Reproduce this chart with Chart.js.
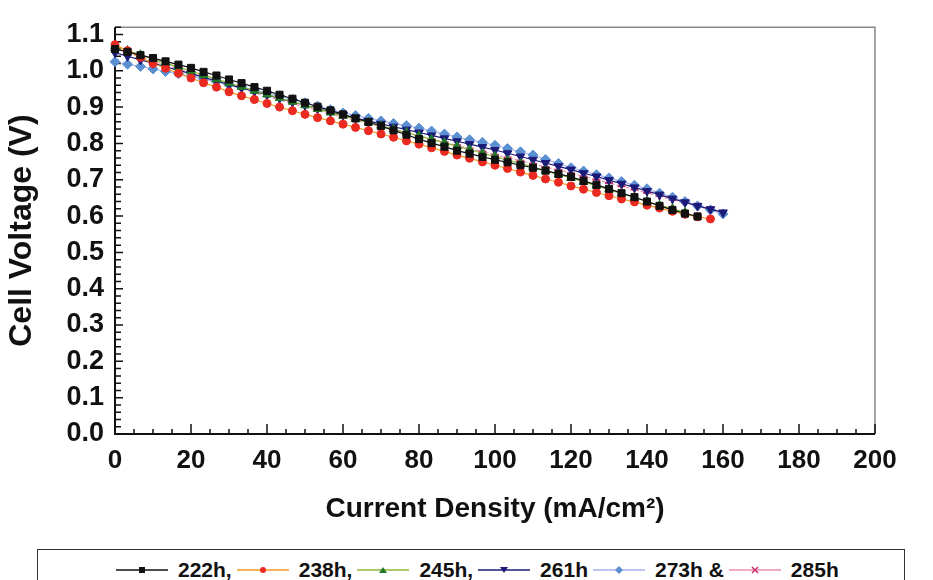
<!DOCTYPE html>
<html>
<head>
<meta charset="utf-8">
<script src="https://cdn.jsdelivr.net/npm/chart.js@4.4.0/dist/chart.umd.min.js"></script>
<style>
  body { margin: 0; background: #fff; width: 933px; height: 580px; overflow: hidden; position: relative; font-family: "Liberation Sans", Arial, sans-serif; }
  #wrap { position: absolute; left: 0; top: 0; width: 933px; height: 540px; }
  #legend { position: absolute; left: 37px; top: 549px; width: 868px; height: 42px; border: 1.5px solid #333; box-sizing: border-box;
            display: flex; align-items: center; padding-left: 78px; font-weight: bold; font-size: 21px; color: #111; }
  .item { display: flex; align-items: center; white-space: pre; margin-right: 5px; }
  .item svg { margin-right: 10px; }
</style>
</head>
<body>
<div id="wrap"><canvas id="chart"></canvas></div>
<div id="legend"></div>
<script>
// current density (mA/cm2), shared by all runs
const currentDensity = [0, 3.3, 6.7, 10, 13.3, 16.7, 20, 23.3, 26.7, 30, 33.3, 36.7, 40, 43.3, 46.7, 50, 53.3, 56.7, 60,
  63.3, 66.7, 70, 73.3, 76.7, 80, 83.3, 86.7, 90, 93.3, 96.7, 100, 103.3, 106.7, 110, 113.3, 116.7, 120,
  123.3, 126.7, 130, 133.3, 136.7, 140, 143.3, 146.7, 150, 153.3, 156.7, 160];

// cell voltage (V) for each run
const v222 = [1.060, 1.052, 1.043, 1.035, 1.026, 1.017, 1.008, 0.997, 0.987, 0.976, 0.966, 0.955, 0.945, 0.934, 0.923, 0.912,
  0.901, 0.891, 0.880, 0.869, 0.859, 0.848, 0.836, 0.824, 0.812, 0.801, 0.791, 0.780, 0.772, 0.763, 0.755, 0.748, 0.740,
  0.733, 0.725, 0.716, 0.708, 0.697, 0.686, 0.675, 0.663, 0.652, 0.640, 0.628, 0.617, 0.607, 0.599];
const v238 = [1.072, 1.055, 1.037, 1.020, 1.007, 0.993, 0.980, 0.967, 0.955, 0.942, 0.931, 0.921, 0.910, 0.900, 0.890, 0.880,
  0.871, 0.862, 0.853, 0.844, 0.835, 0.826, 0.817, 0.807, 0.798, 0.788, 0.778, 0.768, 0.759, 0.749, 0.740, 0.731, 0.721,
  0.712, 0.702, 0.693, 0.683, 0.674, 0.665, 0.656, 0.647, 0.639, 0.630, 0.622, 0.613, 0.605, 0.598, 0.592];
const v245 = [1.068, 1.056, 1.044, 1.032, 1.021, 1.010, 0.999, 0.988, 0.977, 0.966, 0.956, 0.945, 0.935, 0.925, 0.915, 0.905,
  0.895, 0.885, 0.876, 0.867, 0.858, 0.849, 0.839, 0.830, 0.821, 0.811, 0.802, 0.792, 0.783, 0.773, 0.764, 0.754, 0.745,
  0.735, 0.725, 0.715, 0.705, 0.694, 0.684, 0.673, 0.662, 0.651, 0.640, 0.630, 0.620, 0.610];
const v261 = [1.050, 1.040, 1.030, 1.021, 1.011, 1.001, 0.992, 0.982, 0.972, 0.962, 0.953, 0.943, 0.934, 0.924, 0.914, 0.905,
  0.896, 0.887, 0.878, 0.870, 0.862, 0.854, 0.846, 0.838, 0.830, 0.822, 0.814, 0.806, 0.798, 0.790, 0.782, 0.773, 0.764,
  0.755, 0.746, 0.737, 0.728, 0.718, 0.709, 0.699, 0.689, 0.679, 0.669, 0.659, 0.648, 0.638, 0.628, 0.619, 0.610];
const v273 = [1.025, 1.018, 1.012, 1.005, 0.998, 0.992, 0.985, 0.977, 0.970, 0.962, 0.955, 0.947, 0.940, 0.931, 0.921, 0.912,
  0.903, 0.893, 0.884, 0.877, 0.869, 0.862, 0.855, 0.849, 0.842, 0.834, 0.826, 0.818, 0.810, 0.803, 0.795, 0.786, 0.777,
  0.768, 0.756, 0.745, 0.733, 0.724, 0.714, 0.705, 0.695, 0.685, 0.675, 0.663, 0.652, 0.640, 0.628, 0.617, 0.606];
const v285 = [1.062, 1.050, 1.038, 1.027, 1.016, 1.005, 0.994, 0.983, 0.972, 0.961, 0.951, 0.940, 0.930, 0.920, 0.910, 0.900,
  0.891, 0.881, 0.872, 0.863, 0.855, 0.846, 0.837, 0.829, 0.820, 0.812, 0.803, 0.795, 0.786, 0.778, 0.769, 0.761, 0.752,
  0.744, 0.735, 0.727, 0.718, 0.709, 0.700, 0.691, 0.682, 0.673, 0.664, 0.655, 0.645, 0.636, 0.627, 0.617, 0.608];

const seriesLabels = ['222h', '238h', '245h', '261h', '273h', '285h'];
const legendText = ['222h,', '238h,', '245h,', '261h', '273h &', '285h'];
const xTicks = [0, 20, 40, 60, 80, 100, 120, 140, 160, 180, 200];
const yTicks = [0, 0.1, 0.2, 0.3, 0.4, 0.5, 0.6, 0.7, 0.8, 0.9, 1.0, 1.1];

const voltages = [v222, v238, v245, v261, v273, v285];
const lineColors = ['#111111', '#f39a1e', '#8fb83a', '#1c1a78', '#aab2ea', '#ee8fb0'];
const markColors = ['#111111', '#ea2a20', '#217a2a', '#1c1a78', '#5a8fd2', '#c8306a'];
const markStyles = ['rect', 'circle', 'triangle', 'triangle', 'rectRot', 'cross'];
const markRot = [0, 0, 0, 180, 0, 0];
const markRadius = [5, 4, 5, 5, 5, 4];

const sans = '"Liberation Sans", Arial, sans-serif';

const datasets = seriesLabels.map((label, i) => ({
  label: label,
  data: voltages[i].map((v, k) => ({ x: currentDensity[k], y: v })),
  borderColor: lineColors[i],
  backgroundColor: markColors[i],
  pointBorderColor: markColors[i],
  pointBackgroundColor: markColors[i],
  pointStyle: markStyles[i],
  rotation: markRot[i],
  pointRadius: markRadius[i],
  pointBorderWidth: markStyles[i] === 'cross' ? 2 : 1,
  borderWidth: 1.2,
  borderDash: i === 5 ? [3, 2] : [],
  clip: false
}));

// axis frame with inward ticks, like the original plot
const frameTicks = {
  id: 'frameTicks',
  beforeDatasetsDraw(chart) {
    const { ctx, chartArea: a, scales: { x, y } } = chart;
    ctx.save();
    ctx.strokeStyle = '#888';
    ctx.lineWidth = 1.5;
    ctx.beginPath();
    ctx.moveTo(a.left, a.top); ctx.lineTo(a.right, a.top); ctx.lineTo(a.right, a.bottom);
    ctx.stroke();
    ctx.strokeStyle = '#111';
    ctx.lineWidth = 2;
    ctx.beginPath();
    ctx.moveTo(a.left, a.top); ctx.lineTo(a.left, a.bottom); ctx.lineTo(a.right, a.bottom);
    ctx.stroke();
    ctx.lineWidth = 1.5;
    ctx.beginPath();
    for (let v = 0; v <= 200; v += 5) {
      const px = x.getPixelForValue(v);
      const len = v % 20 === 0 ? 10 : 5;
      ctx.moveTo(px, a.bottom); ctx.lineTo(px, a.bottom - len);
    }
    for (let i = 0; i <= 56; i++) {
      const py = y.getPixelForValue(i * 0.02);
      const len = i % 5 === 0 ? 8 : 6;
      ctx.moveTo(a.left, py); ctx.lineTo(a.left + len, py);
    }
    ctx.stroke();
    ctx.restore();
  }
};

new Chart(document.getElementById('chart'), {
  type: 'line',
  data: { datasets: datasets },
  plugins: [frameTicks],
  options: {
    responsive: true,
    maintainAspectRatio: false,
    animation: false,
    layout: { padding: { top: 9, right: 58, left: 0, bottom: 0 } },
    plugins: { legend: { display: false }, tooltip: { enabled: false } },
    scales: {
      x: {
        type: 'linear', min: 0, max: 200,
        afterBuildTicks: s => { s.ticks = xTicks.map(v => ({ value: v })); },
        afterFit: s => { s.height = 106; },
        grid: { display: false, drawTicks: false },
        border: { display: false },
        ticks: { autoSkip: false, maxRotation: 0, padding: 11, color: '#111',
                 font: { family: sans, size: 26, weight: 'bold' } },
        title: { display: true, text: 'Current Density (mA/cm²)', color: '#111',
                 padding: { top: 0, bottom: 14 }, font: { family: sans, size: 28, weight: 'bold' } }
      },
      y: {
        type: 'linear', min: 0, max: 1.12,
        afterBuildTicks: s => { s.ticks = yTicks.map(v => ({ value: v })); },
        afterFit: s => { s.width = 115; },
        grid: { display: false, drawTicks: false },
        border: { display: false },
        ticks: { padding: 11, color: '#111', callback: v => v.toFixed(1),
                 font: { family: sans, size: 27, weight: 'bold' } },
        title: { display: true, text: 'Cell Voltage (V)', color: '#111',
                 padding: { top: 3, bottom: 0 }, font: { family: sans, size: 32, weight: 'bold' } }
      }
    }
  }
});

// legend strip below the chart
const legend = document.getElementById('legend');
legendText.forEach((txt, i) => {
  const item = document.createElement('span');
  item.className = 'item';
  const c = markColors[i];
  let mark = '';
  if (markStyles[i] === 'rect') mark = `<rect x="23" y="6" width="6" height="6" fill="${c}"/>`;
  else if (markStyles[i] === 'circle') mark = `<circle cx="26" cy="9" r="3" fill="${c}"/>`;
  else if (markRot[i] === 180) mark = `<polygon points="22,6 30,6 26,12" fill="${c}"/>`;
  else if (markStyles[i] === 'triangle') mark = `<polygon points="22,12 30,12 26,6" fill="${c}"/>`;
  else if (markStyles[i] === 'rectRot') mark = `<polygon points="26,5 30,9 26,13 22,9" fill="${c}"/>`;
  else mark = `<path d="M23 6 L29 12 M29 6 L23 12" stroke="${c}" stroke-width="1.5"/>`;
  item.innerHTML = `<svg width="52" height="18"><line x1="0" y1="9" x2="52" y2="9" stroke="${lineColors[i]}" stroke-width="1.5"/>${mark}</svg>${txt}`;
  legend.appendChild(item);
});
</script>
</body>
</html>
